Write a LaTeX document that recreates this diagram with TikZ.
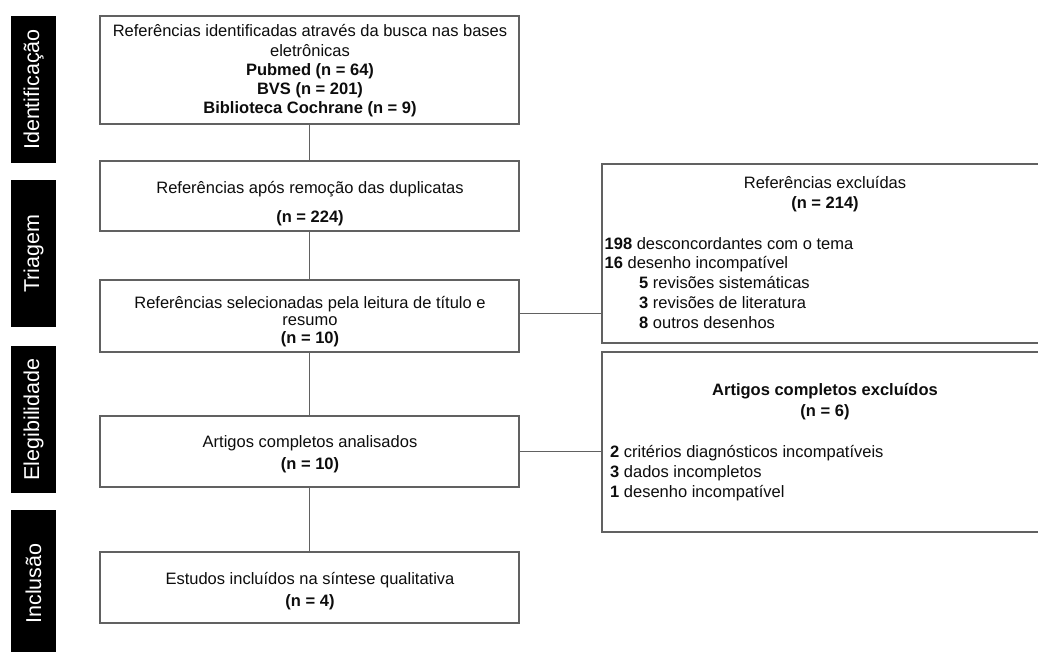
\documentclass[tikz,border=0pt]{standalone}
\usepackage{fontspec}
\setmainfont{Liberation Sans}
\definecolor{boxgray}{gray}{0.38}
\definecolor{ink}{gray}{0.05}
\begin{document}
\begin{tikzpicture}[x=1pt,y=-1pt,
  box/.style={draw=boxgray, line width=1.3pt, inner sep=0pt, fill=white},
  mainbox/.style={box, minimum width=419pt},
  exbox/.style={box, minimum width=443pt},
  side/.style={fill=black, text=white, inner sep=0pt, minimum width=147pt, minimum height=45pt, rotate=90, font=\fontsize{21.5}{24}\selectfont},
  ln/.style={inner sep=0pt, text=ink, font=\fontsize{16.5}{19.5}\selectfont},
  cline/.style={draw=boxgray, line width=1pt}
]
\clip (0,0) rectangle (1038,651);
\fill[white] (0,0) rectangle (1038,651);

% side bars
\node[side] (s1) at (33.5,89.5) {Identificação};
\node[side] (s2) at (33.5,253.5) {Triagem};
\node[side] (s3) at (33.5,419.5) {Elegibilidade};
\node[side] (s4) at (33.5,583.5) {Inclusão};

% main boxes
\node[mainbox, minimum height=108pt] (b1) at (309.5,70) {};
\node[mainbox, minimum height=70pt] (b2) at (309.5,196) {};
\node[mainbox, minimum height=72pt] (b3) at (309.5,316) {};
\node[mainbox, minimum height=71pt] (b4) at (309.5,451.5) {};
\node[mainbox, minimum height=71pt] (b5) at (309.5,587.5) {};

% exclusion boxes
\node[exbox, minimum height=179pt] (e1) at (823.5,253.5) {};
\node[exbox, minimum height=180pt] (e2) at (823.5,442) {};

% connectors
\draw[cline] (b1.south) -- (b2.north);
\draw[cline] (b2.south) -- (b3.north);
\draw[cline] (b3.south) -- (b4.north);
\draw[cline] (b4.south) -- (b5.north);
\draw[cline] ([yshift=3pt]b3.east) -- ([yshift=3pt]b3.east -| e1.west);
\draw[cline] (b4.east) -- (b4.east -| e2.west);

% box 1 text
\node[ln, anchor=base] (b1l1) at (310,36) {Referências identificadas através da busca nas bases};
\node[ln, anchor=base] (b1l2) at (310,56) {eletrônicas};
\node[ln, anchor=base] (b1l3) at (310,75) {\bfseries Pubmed (n = 64)};
\node[ln, anchor=base] (b1l4) at (310,94) {\bfseries BVS (n = 201)};
\node[ln, anchor=base] (b1l5) at (310,113) {\bfseries Biblioteca Cochrane (n = 9)};

% box 2 text
\node[ln, anchor=base] (b2l1) at (310,193) {Referências após remoção das duplicatas};
\node[ln, anchor=base] (b2l2) at (310,222) {\bfseries (n = 224)};

% box 3 text
\node[ln, anchor=base] (b3l1) at (310,308) {Referências selecionadas pela leitura de título e};
\node[ln, anchor=base] (b3l2) at (310,325.5) {resumo};
\node[ln, anchor=base] (b3l3) at (310,343) {\bfseries (n = 10)};

% box 4 text
\node[ln, anchor=base] (b4l1) at (310,447) {Artigos completos analisados};
\node[ln, anchor=base] (b4l2) at (310,469) {\bfseries (n = 10)};

% box 5 text
\node[ln, anchor=base] (b5l1) at (310,584) {Estudos incluídos na síntese qualitativa};
\node[ln, anchor=base] (b5l2) at (310,606) {\bfseries (n = 4)};

% exclusion 1 text
\node[ln, anchor=base] (e1h1) at (825,188) {Referências excluídas};
\node[ln, anchor=base] (e1h2) at (825,208) {\bfseries (n = 214)};
\node[ln, anchor=base west] (e1a) at (604.5,249) {\textbf{198} desconcordantes com o tema};
\node[ln, anchor=base west] (e1b) at (604.5,268.5) {\textbf{16} desenho incompatível};
\node[ln, anchor=base west] (e1c) at (639,288.5) {\textbf{5} revisões sistemáticas};
\node[ln, anchor=base west] (e1d) at (639,308.5) {\textbf{3} revisões de literatura};
\node[ln, anchor=base west] (e1e) at (639,328.5) {\textbf{8} outros desenhos};

% exclusion 2 text
\node[ln, anchor=base] (e2h1) at (825,395) {\bfseries Artigos completos excluídos};
\node[ln, anchor=base] (e2h2) at (825,416) {\bfseries (n = 6)};
\node[ln, anchor=base west] (e2a) at (610,457) {\textbf{2} critérios diagnósticos incompatíveis};
\node[ln, anchor=base west] (e2b) at (610,477) {\textbf{3} dados incompletos};
\node[ln, anchor=base west] (e2c) at (610,497) {\textbf{1} desenho incompatível};
\end{tikzpicture}
\end{document}
